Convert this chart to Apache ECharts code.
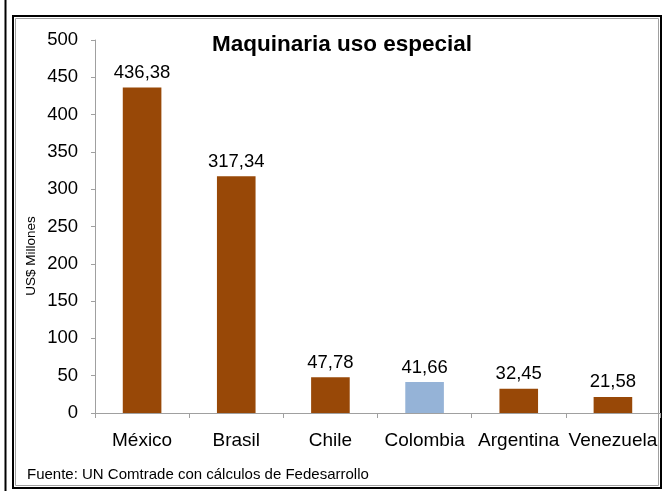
<!DOCTYPE html>
<html>
<head>
<meta charset="utf-8">
<style>
html,body{margin:0;padding:0;background:#fff;}
#c{width:668px;height:491px;}
</style>
<script src="https://cdn.jsdelivr.net/npm/echarts@6/dist/echarts.min.js"></script>
</head>
<body>
<div id="c"></div>
<script>
const categories = ["México", "Brasil", "Chile", "Colombia", "Argentina", "Venezuela"];
const values = [436.38, 317.34, 47.78, 41.66, 32.45, 21.58];
const highlight = "Colombia";
const yTicks = [0, 50, 100, 150, 200, 250, 300, 350, 400, 450, 500];

const FONT = "'Liberation Sans', Arial, sans-serif";
const chart = echarts.init(document.getElementById('c'), null, {renderer: 'canvas'});
chart.setOption({
  animation: false,
  backgroundColor: '#fff',
  textStyle: {fontFamily: FONT},
  title: {
    text: 'Maquinaria uso especial',
    left: 337, top: 28, textAlign: 'center',
    textStyle: {fontFamily: FONT, fontSize: 22.5, fontWeight: 'bold', color: '#000'}
  },
  graphic: [
    {type: 'line', shape: {x1: 5.5, y1: 0, x2: 5.5, y2: 491}, style: {stroke: '#000', lineWidth: 2}},
    {type: 'rect', shape: {x: 13, y: 16, width: 648, height: 472}, style: {fill: 'none', stroke: '#000', lineWidth: 2}},
    {type: 'rect', shape: {x: 15.5, y: 18.5, width: 643, height: 467}, style: {fill: 'none', stroke: '#a0a0a0', lineWidth: 1}},
    {type: 'text', x: 27, y: 475, style: {text: 'Fuente: UN Comtrade con cálculos de Fedesarrollo', font: '15px ' + FONT, fill: '#000', textVerticalAlign: 'middle'}},
    {type: 'text', x: 31, y: 256, rotation: Math.PI / 2, style: {text: 'US$ Millones', font: '13.5px ' + FONT, fill: '#000', textAlign: 'center', textVerticalAlign: 'middle'}}
  ],
  grid: {left: 95, right: 8, top: 40, bottom: 78, containLabel: false},
  xAxis: {
    type: 'category',
    data: categories,
    axisLine: {lineStyle: {color: '#a0a0a0'}},
    axisTick: {show: true, alignWithLabel: false, length: 5, lineStyle: {color: '#a0a0a0'}},
    axisLabel: {fontFamily: FONT, fontSize: 19, color: '#000', margin: 18, interval: 0}
  },
  yAxis: {
    type: 'value',
    min: yTicks[0], max: yTicks[yTicks.length - 1], interval: 50,
    axisLine: {show: true, lineStyle: {color: '#a0a0a0'}},
    axisTick: {show: true, length: 4, lineStyle: {color: '#a0a0a0'}},
    splitLine: {show: false},
    axisLabel: {fontFamily: FONT, fontSize: 18.5, color: '#000', margin: 17}
  },
  series: [{
    type: 'bar',
    barWidth: '41%',
    data: values.map((v, i) => ({
      value: v,
      itemStyle: {color: categories[i] === highlight ? '#95B3D7' : '#984807'}
    })),
    label: {
      show: true, position: 'top', distance: 5,
      fontFamily: FONT, fontSize: 18.5, color: '#000',
      formatter: p => p.value.toFixed(2).replace('.', ',')
    }
  }]
});
</script>
</body>
</html>
